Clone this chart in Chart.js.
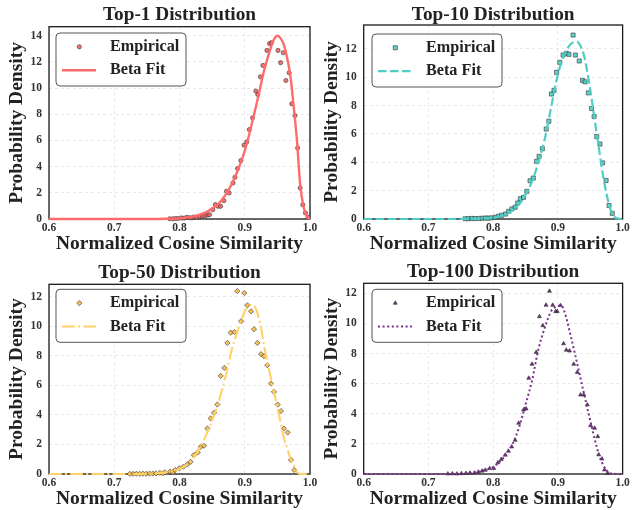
<!DOCTYPE html>
<html><head><meta charset="utf-8">
<script src="https://cdn.jsdelivr.net/npm/chart.js@4.4.1/dist/chart.umd.min.js"></script>
<style>
html,body{margin:0;padding:0;background:#fff;overflow:hidden;width:632px;height:510px;position:relative}
canvas{position:absolute}
</style></head><body>
<canvas id="c1" width="330" height="260" style="left:0px;top:0px"></canvas>
<canvas id="c2" width="317" height="260" style="left:315px;top:0px"></canvas>
<canvas id="c3" width="330" height="260" style="left:0px;top:255px"></canvas>
<canvas id="c4" width="317" height="260" style="left:315px;top:255px"></canvas>
<script>
// ---------------- DATA ----------------
const xTickVals = [0.6, 0.7, 0.8, 0.9, 1.0];
const yTicksTop1 = [0, 2, 4, 6, 8, 10, 12, 14];
const yTicksOther = [0, 2, 4, 6, 8, 10, 12];
const panelTitles = ['Top-1 Distribution', 'Top-10 Distribution', 'Top-50 Distribution', 'Top-100 Distribution'];
const seriesLabels = ['Empirical', 'Beta Fit'];
const xAxisTitle = 'Normalized Cosine Similarity';
const yAxisTitle = 'Probability Density';

// Top-1
const top1EmpX = [0.785,0.790,0.794,0.798,0.803,0.807,0.811,0.815,0.819,0.822,0.826,0.831,0.835,0.839,0.843,0.846,0.851,0.855,0.859,0.863,0.868,0.872,0.876,0.882,0.885,0.889,0.894,0.899,0.903,0.907,0.912,0.917,0.920,0.924,0.928,0.934,0.938,0.941,0.951,0.955,0.959,0.963,0.968,0.972,0.977,0.981,0.985,0.989,0.993,0.997];
const top1EmpY = [0.02,0.02,0.04,0.04,0.08,0.06,0.13,0.10,0.08,0.15,0.13,0.18,0.22,0.25,0.30,0.33,0.71,1.10,0.97,0.97,1.40,2.12,1.99,2.75,3.19,3.85,4.46,5.64,5.89,6.83,7.73,9.77,9.51,10.86,11.73,12.88,13.39,13.47,12.88,11.94,12.70,10.58,11.17,8.80,7.90,5.43,2.37,1.09,0.46,0.15];
const top1FitX = [0.60,0.70,0.75,0.78,0.80,0.82,0.84,0.85,0.86,0.87,0.88,0.89,0.90,0.91,0.92,0.93,0.94,0.945,0.95,0.955,0.96,0.965,0.97,0.975,0.98,0.985,0.99,0.995,1.0];
const top1FitY = [0,0,0.003,0.02,0.06,0.18,0.5,0.8,1.18,1.8,2.65,3.8,5.2,7.1,9.2,11.4,13.1,13.75,14.0,13.8,13.3,12.3,10.9,8.6,6.0,2.6,0.95,0.2,0];

// Top-10
const top10EmpX = [0.757,0.762,0.767,0.772,0.778,0.783,0.788,0.792,0.797,0.803,0.808,0.813,0.819,0.824,0.829,0.834,0.838,0.842,0.847,0.852,0.857,0.862,0.867,0.871,0.876,0.882,0.886,0.890,0.894,0.898,0.903,0.908,0.913,0.917,0.9235,0.927,0.933,0.938,0.942,0.947,0.952,0.956,0.960,0.965,0.969,0.9745,0.979,0.984];
const top10EmpY = [0.02,0.02,0.04,0.03,0.04,0.05,0.07,0.06,0.08,0.12,0.19,0.26,0.35,0.54,0.71,0.83,1.13,1.43,1.53,1.95,2.70,2.89,4.07,4.42,4.96,6.35,6.90,8.82,9.08,10.35,11.05,11.57,11.69,11.62,12.98,11.57,11.15,9.78,9.68,8.90,7.80,7.23,5.82,5.29,3.96,2.72,0.95,0.40];
const top10FitX = [0.60,0.70,0.75,0.78,0.80,0.81,0.82,0.83,0.84,0.85,0.86,0.87,0.88,0.89,0.90,0.91,0.92,0.93,0.935,0.94,0.945,0.95,0.955,0.96,0.965,0.97,0.975,0.98,0.985,0.99,1.0];
const top10FitY = [0,0,0.005,0.03,0.09,0.17,0.32,0.6,1.05,1.7,2.65,4.0,5.7,8.0,10.2,11.6,12.35,12.5,12.2,11.6,10.5,9.1,7.6,6.0,4.5,3.0,1.8,0.85,0.3,0.06,0];

// Top-50
const top50EmpX = [0.724,0.729,0.734,0.739,0.744,0.749,0.754,0.759,0.764,0.770,0.775,0.778,0.7855,0.790,0.793,0.7997,0.806,0.812,0.817,0.822,0.828,0.8325,0.8376,0.8427,0.8478,0.853,0.858,0.8632,0.8687,0.8733,0.8785,0.884,0.8886,0.8943,0.8993,0.904,0.9096,0.9142,0.9193,0.925,0.9296,0.9346,0.9402,0.9448,0.9505,0.9555,0.960,0.9658,0.9708,0.9759];
const top50EmpY = [0.01,0.01,0.02,0.01,0.02,0.02,0.03,0.03,0.04,0.07,0.05,0.11,0.16,0.13,0.27,0.38,0.49,0.65,0.83,1.28,1.46,1.84,1.91,3.08,3.76,4.14,4.70,6.64,7.18,8.87,9.57,9.61,12.38,10.34,12.25,11.42,11.01,9.80,8.87,8.11,7.97,7.36,6.12,5.56,4.70,4.26,3.08,2.81,0.95,0.27];
const top50FitX = [0.60,0.70,0.74,0.76,0.78,0.79,0.80,0.81,0.82,0.83,0.84,0.85,0.86,0.87,0.88,0.89,0.90,0.905,0.91,0.915,0.92,0.925,0.93,0.935,0.94,0.945,0.95,0.955,0.96,0.965,0.97,0.975,0.98,0.985,1.0];
const top50FitY = [0,0,0.01,0.03,0.11,0.2,0.34,0.58,1.0,1.7,2.55,3.6,4.9,6.5,8.4,9.8,11.0,11.3,11.46,11.35,10.8,9.9,8.6,7.5,6.5,5.5,4.5,3.5,2.45,1.75,1.05,0.58,0.15,0,0];

// Top-100
const top100EmpX = [0.730,0.737,0.744,0.751,0.758,0.764,0.771,0.777,0.783,0.788,0.7946,0.801,0.8073,0.8125,0.8186,0.8236,0.8287,0.834,0.8394,0.847,0.851,0.855,0.860,0.8665,0.8715,0.8767,0.8817,0.887,0.892,0.8966,0.899,0.904,0.9088,0.913,0.918,0.9245,0.930,0.935,0.940,0.9455,0.9505,0.9567,0.9617,0.963,0.968,0.972,0.977];
const top100EmpY = [0.01,0.02,0.01,0.03,0.05,0.07,0.07,0.13,0.20,0.26,0.37,0.37,0.75,0.97,1.26,1.52,1.81,2.25,3.38,4.26,4.33,6.37,7.30,8.09,10.46,9.86,11.22,12.15,11.22,10.80,10.80,11.20,8.66,8.24,8.18,7.30,6.76,5.26,5.26,4.60,3.22,3.05,2.49,1.28,1.01,0.28,0.05];
const top100FitX = [0.60,0.70,0.74,0.76,0.78,0.79,0.80,0.81,0.82,0.83,0.84,0.85,0.86,0.87,0.88,0.89,0.90,0.905,0.91,0.92,0.93,0.94,0.95,0.96,0.965,0.97,0.975,0.98,1.0];
const top100FitY = [0,0,0.01,0.05,0.17,0.3,0.46,0.82,1.3,2.0,3.1,4.6,6.2,8.3,9.75,10.85,11.15,11.2,10.8,9.15,7.3,5.4,3.55,1.8,1.1,0.6,0.25,0.05,0];

// ---------------- RENDERING ----------------
const SERIF = "'Liberation Serif', 'Times New Roman', Times, serif";

function markerPath(ctx, style, x, y, r) {
  ctx.beginPath();
  if (style === 'circle') ctx.arc(x, y, r, 0, Math.PI * 2);
  else if (style === 'rect') { const s = r * Math.SQRT1_2; ctx.rect(x - s, y - s, 2 * s, 2 * s); }
  else if (style === 'rectRot') { ctx.moveTo(x, y - r); ctx.lineTo(x + r, y); ctx.lineTo(x, y + r); ctx.lineTo(x - r, y); ctx.closePath(); }
  else if (style === 'triangle') {
    for (let k = 0; k < 3; k++) {
      const a = -Math.PI / 2 + k * 2 * Math.PI / 3;
      const px = x + Math.cos(a) * r, py = y + Math.sin(a) * r;
      if (k === 0) ctx.moveTo(px, py); else ctx.lineTo(px, py);
    }
    ctx.closePath();
  }
}

const framePlugin = {
  id: 'framePlugin',
  beforeDatasetsDraw(chart) {
    const {ctx, chartArea: a} = chart;
    ctx.save();
    ctx.strokeStyle = '#1a1a1a';
    ctx.lineWidth = 1.3;
    ctx.strokeRect(a.left, a.top, a.right - a.left, a.bottom - a.top);
    ctx.restore();
  }
};

const legendBox = {
  id: 'legendBox',
  afterDraw(chart, args, o) {
    const {ctx, chartArea: a} = chart;
    const bx = a.left + o.dx, by = o.top, bw = 130, bh = 53, rr = 4;
    ctx.save();
    ctx.beginPath();
    ctx.moveTo(bx + rr, by);
    ctx.arcTo(bx + bw, by, bx + bw, by + bh, rr);
    ctx.arcTo(bx + bw, by + bh, bx, by + bh, rr);
    ctx.arcTo(bx, by + bh, bx, by, rr);
    ctx.arcTo(bx, by, bx + bw, by, rr);
    ctx.closePath();
    ctx.fillStyle = 'rgba(255,255,255,0.85)';
    ctx.fill();
    ctx.strokeStyle = '#555';
    ctx.lineWidth = 1;
    ctx.stroke();
    const emp = chart.data.datasets[1], fit = chart.data.datasets[0];
    const r1 = by + 13.8, r2 = by + 37.2;
    markerPath(ctx, emp.pointStyle, bx + 23.3, r1, emp.pointRadius);
    ctx.fillStyle = emp.pointBackgroundColor; ctx.fill();
    ctx.lineWidth = emp.pointBorderWidth; ctx.strokeStyle = emp.pointBorderColor; ctx.stroke();
    ctx.beginPath();
    ctx.setLineDash(fit.borderDash || []);
    ctx.moveTo(bx + 6, r2); ctx.lineTo(bx + 40, r2);
    ctx.strokeStyle = fit.borderColor; ctx.lineWidth = fit.borderWidth; ctx.stroke();
    ctx.setLineDash([]);
    ctx.fillStyle = '#222';
    ctx.font = "bold 16.2px " + SERIF;
    ctx.textAlign = 'left';
    ctx.textBaseline = 'middle';
    ctx.fillText(emp.label, bx + 54, r1);
    ctx.fillText(fit.label, bx + 54, r2);
    ctx.restore();
  }
};

function makeChart(id, p) {
  const gridOpts = {color: '#e2e2e2', lineWidth: 0.8, drawTicks: false, borderDash: [3, 3]};
  const tickFont = {family: SERIF, size: 11.5, weight: 'bold'};
  const titleFont = {family: SERIF, size: 19.5, weight: 'bold', lineHeight: 1};
  return new Chart(document.getElementById(id), {
    type: 'line',
    data: {
      datasets: [
        {
          label: seriesLabels[1],
          data: p.fitX.map((x, i) => ({x: x, y: p.fitY[i]})),
          borderColor: p.color, borderWidth: p.lw, borderDash: p.dash,
          pointRadius: 0, cubicInterpolationMode: 'monotone', fill: false, clip: false
        },
        {
          label: seriesLabels[0],
          data: p.empX.map((x, i) => ({x: x, y: p.empY[i]})),
          showLine: false, pointStyle: p.marker, pointRadius: p.mr,
          pointBackgroundColor: p.mfill, pointBorderColor: '#333', pointBorderWidth: 0.6,
          clip: false
        }
      ]
    },
    options: {
      responsive: false, animation: false, events: [],
      layout: {padding: {left: 0, right: p.padR, top: 0, bottom: 0}, autoPadding: false},
      plugins: {
        legend: {display: false},
        tooltip: {enabled: false},
        title: {
          display: true, text: p.title, fullSize: false, color: '#222',
          font: {family: SERIF, size: 19.3, weight: 'bold', lineHeight: 1},
          padding: {top: p.tpt, bottom: p.tpb}
        },
        legendBox: {dx: p.ldx, top: p.ltop}
      },
      scales: {
        x: {
          type: 'linear', min: 0.6, max: 1.0,
          afterBuildTicks: s => { s.ticks = xTickVals.map(v => ({value: v})); },
          afterFit: s => { s.height = 41; },
          ticks: {padding: 2.2, color: '#333', font: tickFont, maxRotation: 0, autoSkip: false,
                  callback: v => Number(v).toFixed(1)},
          grid: gridOpts,
          border: {display: false, dash: [3, 3]},
          title: {display: true, text: xAxisTitle, color: '#222', font: titleFont, padding: {top: 0, bottom: 5.85}}
        },
        y: {
          type: 'linear', min: 0, max: p.yMax,
          afterBuildTicks: s => { s.ticks = p.yTicks.map(v => ({value: v})); },
          afterFit: s => { s.width = p.yW; },
          ticks: {padding: 7, color: '#333', font: tickFont, autoSkip: false, callback: v => String(v)},
          grid: gridOpts,
          border: {display: false, dash: [3, 3]},
          title: {display: true, text: yAxisTitle, color: '#222', font: titleFont, padding: {top: 6.75, bottom: 0}}
        }
      }
    },
    plugins: [framePlugin, legendBox]
  });
}

makeChart('c1', {title: panelTitles[0], empX: top1EmpX, empY: top1EmpY, fitX: top1FitX, fitY: top1FitY,
  color: '#FF6B6B', lw: 2.4, dash: [], marker: 'circle', mr: 2.1, mfill: 'rgba(240,100,100,0.9)',
  yMax: 14.69, yTicks: yTicksTop1, yW: 49, padR: 20, tpt: 5.2, tpb: 2.2, ldx: 7, ltop: 33});
makeChart('c2', {title: panelTitles[1], empX: top10EmpX, empY: top10EmpY, fitX: top10FitX, fitY: top10FitY,
  color: '#4ECDC4', lw: 2.2, dash: [8.5, 3.5], marker: 'rect', mr: 2.9, mfill: 'rgba(78,205,196,0.9)',
  yMax: 13.69, yTicks: yTicksOther, yW: 48.7, padR: 7, tpt: 5.2, tpb: 0.5, ldx: 8.3, ltop: 34});
makeChart('c3', {title: panelTitles[2], empX: top50EmpX, empY: top50EmpY, fitX: top50FitX, fitY: top50FitY,
  color: '#FFD166', lw: 2.1, dash: [12.8, 3.2, 2, 3.2], marker: 'rectRot', mr: 2.6, mfill: 'rgba(245,190,80,0.95)',
  yMax: 12.84, yTicks: yTicksOther, yW: 49, padR: 20, tpt: 7.9, tpb: 2.1, ldx: 7, ltop: 34.3});
makeChart('c4', {title: panelTitles[3], empX: top100EmpX, empY: top100EmpY, fitX: top100FitX, fitY: top100FitY,
  color: '#7B2D8E', lw: 2.0, dash: [2, 2.6], marker: 'triangle', mr: 2.3, mfill: 'rgba(100,35,115,0.95)',
  yMax: 12.67, yTicks: yTicksOther, yW: 48.7, padR: 7, tpt: 7.7, tpb: 1.3, ldx: 8.3, ltop: 34.3});
</script>
</body></html>
